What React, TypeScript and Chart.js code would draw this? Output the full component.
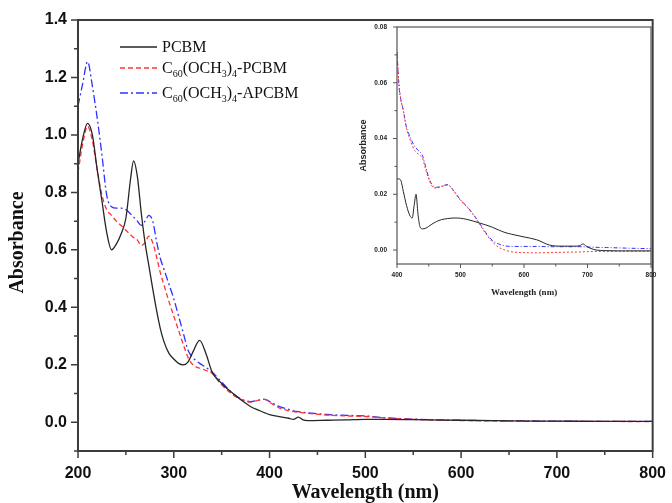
import React, { useEffect, useRef } from 'react';
import { Chart, registerables } from 'chart.js';

Chart.register(...registerables);

// ---------- data ----------
const seriesNames = ['PCBM', 'C60(OCH3)4-PCBM', 'C60(OCH3)4-APCBM'];

const mainWavelengths = [200, 205, 210, 215, 220, 225, 230, 235, 240, 245, 250, 255, 258, 262, 266, 270, 274, 278, 282, 286, 290, 295, 300, 305, 310, 315, 320, 327, 334, 340, 350, 360, 370, 380, 390, 395, 400, 410, 420, 425, 430, 435, 440, 460, 480, 500, 520, 550, 600, 650, 700, 750, 800];
const mainPCBM = [0.90, 0.99, 1.04, 1.00, 0.88, 0.77, 0.66, 0.60, 0.62, 0.655, 0.71, 0.85, 0.91, 0.855, 0.73, 0.625, 0.545, 0.465, 0.39, 0.325, 0.278, 0.24, 0.22, 0.205, 0.20, 0.21, 0.245, 0.285, 0.235, 0.175, 0.135, 0.105, 0.078, 0.055, 0.040, 0.033, 0.027, 0.020, 0.014, 0.010, 0.018, 0.008, 0.006, 0.007, 0.008, 0.010, 0.010, 0.009, 0.007, 0.005, 0.004, 0.003, 0.003];
const mainOMePCBM = [0.87, 0.97, 1.03, 0.98, 0.88, 0.79, 0.74, 0.72, 0.70, 0.685, 0.668, 0.652, 0.643, 0.634, 0.615, 0.625, 0.648, 0.625, 0.576, 0.52, 0.475, 0.42, 0.37, 0.32, 0.27, 0.225, 0.20, 0.188, 0.18, 0.17, 0.13, 0.10, 0.08, 0.07, 0.078, 0.08, 0.07, 0.05, 0.04, 0.037, 0.035, 0.033, 0.031, 0.025, 0.022, 0.02, 0.015, 0.01, 0.006, 0.004, 0.003, 0.003, 0.002];
const mainOMeAPCBM = [1.10, 1.18, 1.255, 1.17, 1.06, 0.93, 0.79, 0.75, 0.745, 0.745, 0.74, 0.725, 0.715, 0.70, 0.685, 0.70, 0.72, 0.70, 0.63, 0.57, 0.53, 0.48, 0.43, 0.37, 0.31, 0.25, 0.225, 0.205, 0.19, 0.175, 0.14, 0.105, 0.082, 0.072, 0.078, 0.08, 0.072, 0.055, 0.045, 0.04, 0.037, 0.035, 0.033, 0.027, 0.024, 0.022, 0.016, 0.011, 0.007, 0.005, 0.004, 0.003, 0.003];

const insetWavelengths = [400, 403, 406, 410, 415, 420, 424, 427, 430, 433, 436, 440, 445, 450, 455, 462, 470, 480, 490, 500, 510, 520, 530, 540, 550, 560, 570, 580, 600, 620, 640, 660, 680, 688, 693, 698, 710, 730, 760, 800];
const insetPCBM = [0.0255, 0.0255, 0.025, 0.021, 0.016, 0.0125, 0.0115, 0.016, 0.020, 0.013, 0.0085, 0.0076, 0.0078, 0.0085, 0.0093, 0.0102, 0.0109, 0.0113, 0.0115, 0.0114, 0.0110, 0.0104, 0.0097, 0.0090, 0.0082, 0.0072, 0.0063, 0.0057, 0.0047, 0.0037, 0.0018, 0.0014, 0.0014, 0.0016, 0.0022, 0.0014, 0.0002, -0.0002, -0.0003, -0.0003];
const insetOMePCBM = [0.071, 0.060, 0.054, 0.050, 0.0435, 0.040, 0.0375, 0.036, 0.0352, 0.0345, 0.034, 0.033, 0.029, 0.0255, 0.023, 0.0222, 0.0228, 0.0233, 0.021, 0.0178, 0.0155, 0.0127, 0.0093, 0.0058, 0.003, 0.001, 0.0, -0.0006, -0.0009, -0.001, -0.0009, -0.0008, -0.0007, -0.0007, -0.0006, -0.0006, -0.0005, -0.0005, -0.0004, -0.0004];
const insetOMeAPCBM = [0.071, 0.059, 0.054, 0.050, 0.044, 0.041, 0.0388, 0.0375, 0.0366, 0.0358, 0.0352, 0.034, 0.030, 0.026, 0.0235, 0.0225, 0.0229, 0.0235, 0.021, 0.018, 0.0157, 0.0129, 0.0096, 0.0062, 0.0035, 0.0022, 0.0015, 0.0013, 0.0013, 0.0013, 0.0012, 0.0012, 0.0012, 0.0012, 0.0012, 0.0011, 0.0010, 0.0009, 0.0007, 0.0005];

const mainXRange = [200, 800];
const mainYRange = [-0.1, 1.4];
const insetXRange = [400, 800];
const insetYRange = [-0.005, 0.08];
const axisTitles = { x: 'Wavelength (nm)', y: 'Absorbance' };

const seriesColors = ['#262626', '#ff3333', '#3030ff'];
const mainDashes = [[], [5, 3], [8, 3, 2, 3]];
const insetDashes = [[], [2, 2], [4, 2, 1, 2]];

// ---------- helpers ----------
const toPoints = (xs: number[], ys: number[]) => xs.map((x, i) => ({ x, y: ys[i] }));
const isMult = (v: number, m: number) => Math.abs(v / m - Math.round(v / m)) < 1e-6;
const SANS = '"Liberation Sans", Arial, sans-serif';
const SERIF = '"Liberation Serif", "Times New Roman", serif';

function frameTicksPlugin(cfg: any) {
  return {
    id: 'frameTicks' + cfg.id,
    afterDraw(chart: any) {
      const { ctx, chartArea: a, scales } = chart;
      const xs = scales.x;
      const ys = scales.y;
      ctx.save();
      ctx.strokeStyle = cfg.color;
      ctx.lineWidth = cfg.tickWidth;
      ctx.beginPath();
      const x0 = Math.ceil(xs.min / cfg.xMinor - 1e-9);
      const x1 = Math.floor(xs.max / cfg.xMinor + 1e-9);
      for (let i = x0; i <= x1; i++) {
        const v = i * cfg.xMinor;
        const px = xs.getPixelForValue(v);
        const len = isMult(v, cfg.xMajor) ? cfg.majorLen : cfg.minorLen;
        ctx.moveTo(px, a.bottom);
        ctx.lineTo(px, a.bottom + len);
      }
      const y0 = Math.ceil(ys.min / cfg.yMinor - 1e-9);
      const y1 = Math.floor(ys.max / cfg.yMinor + 1e-9);
      for (let i = y0; i <= y1; i++) {
        const v = i * cfg.yMinor;
        const py = ys.getPixelForValue(v);
        const len = isMult(v, cfg.yMajor) ? cfg.majorLen : cfg.minorLen;
        ctx.moveTo(a.left, py);
        ctx.lineTo(a.left - len, py);
      }
      ctx.stroke();
      ctx.lineWidth = cfg.frameWidth;
      ctx.strokeRect(a.left, a.top, a.right - a.left, a.bottom - a.top);
      ctx.restore();
    },
  };
}

// split a chemical name into normal / subscript parts
function chemParts(name: string) {
  const parts: { t: string; sub: boolean }[] = [];
  const re = /(\d+)|([^\d]+)/g;
  let m: RegExpExecArray | null;
  while ((m = re.exec(name))) {
    if (m[1]) {
      const prev = parts.length ? parts[parts.length - 1].t : '';
      const sub = /[A-Za-z)]$/.test(prev);
      parts.push({ t: m[1], sub });
    } else parts.push({ t: m[2], sub: false });
  }
  return parts;
}

const mainExtrasPlugin = {
  id: 'mainExtras',
  afterDraw(chart: any) {
    const { ctx, chartArea: a } = chart;
    ctx.save();
    // y title
    ctx.fillStyle = '#111';
    ctx.font = 'bold 20px ' + SERIF;
    ctx.textAlign = 'center';
    ctx.textBaseline = 'middle';
    ctx.translate(18, (a.top + a.bottom) / 2 + 7);
    ctx.rotate(-Math.PI / 2);
    ctx.fillText(axisTitles.y, 0, 0);
    ctx.restore();

    // legend
    const rows = [27, 48, 73];
    ctx.save();
    chart.data.datasets.forEach((ds: any, i: number) => {
      const y = a.top + rows[i];
      ctx.strokeStyle = ds.borderColor;
      ctx.lineWidth = 1.3;
      ctx.setLineDash(ds.borderDash || []);
      ctx.beginPath();
      ctx.moveTo(a.left + 42, y);
      ctx.lineTo(a.left + 79, y);
      ctx.stroke();
      ctx.setLineDash([]);
      let x = a.left + 84;
      const base = y + 5;
      ctx.fillStyle = '#111';
      ctx.textAlign = 'left';
      ctx.textBaseline = 'alphabetic';
      for (const p of chemParts(ds.label)) {
        ctx.font = (p.sub ? '10px ' : '16px ') + SERIF;
        const by = p.sub ? base + 4 : base;
        ctx.fillText(p.t, x, by);
        x += ctx.measureText(p.t).width;
      }
    });
    ctx.restore();
  },
};

function mainConfig(): any {
  const sets = [mainPCBM, mainOMePCBM, mainOMeAPCBM];
  return {
    type: 'line',
    data: {
      datasets: sets.map((s, i) => ({
        label: seriesNames[i],
        data: toPoints(mainWavelengths, s),
        borderColor: seriesColors[i],
        borderDash: mainDashes[i],
        borderWidth: 1.3,
        pointRadius: 0,
        fill: false,
        cubicInterpolationMode: 'monotone',
      })),
    },
    options: {
      responsive: false,
      animation: false,
      devicePixelRatio: 1,
      layout: { padding: { top: 20, right: 15, left: 0, bottom: 0 } },
      plugins: { legend: { display: false }, tooltip: { enabled: false } },
      scales: {
        x: {
          type: 'linear',
          min: mainXRange[0],
          max: mainXRange[1],
          afterFit: (s: any) => { s.height = 52; },
          grid: { drawOnChartArea: false, tickLength: 7, tickColor: 'rgba(0,0,0,0)' },
          border: { display: false },
          ticks: {
            stepSize: 50,
            autoSkip: false,
            maxRotation: 0,
            padding: 6,
            color: '#111',
            font: { family: SANS, size: 16, weight: 'bold' },
            callback: (v: number) => (isMult(v, 100) ? String(v) : ''),
          },
          title: {
            display: true,
            text: axisTitles.x,
            color: '#111',
            padding: 0,
            font: { family: SERIF, size: 20, weight: 'bold', lineHeight: 1 },
          },
        },
        y: {
          type: 'linear',
          min: mainYRange[0],
          max: mainYRange[1],
          afterFit: (s: any) => { s.width = 78; },
          grid: { drawOnChartArea: false, tickLength: 7, tickColor: 'rgba(0,0,0,0)' },
          border: { display: false },
          ticks: {
            stepSize: 0.1,
            autoSkip: false,
            padding: 4,
            color: '#111',
            font: { family: SANS, size: 16, weight: 'bold' },
            callback: (v: number) => (isMult(v, 0.2) ? (Math.abs(v) < 1e-9 ? 0 : v).toFixed(1) : ''),
          },
        },
      },
    },
    plugins: [
      frameTicksPlugin({ id: 'main', color: '#3c3c3c', tickWidth: 1.5, frameWidth: 2, majorLen: 7, minorLen: 4, xMajor: 100, xMinor: 50, yMajor: 0.2, yMinor: 0.1 }),
      mainExtrasPlugin,
    ],
  };
}

function insetConfig(): any {
  const sets = [insetPCBM, insetOMePCBM, insetOMeAPCBM];
  return {
    type: 'line',
    data: {
      datasets: sets.map((s, i) => ({
        label: seriesNames[i],
        data: toPoints(insetWavelengths, s),
        borderColor: seriesColors[i],
        borderDash: insetDashes[i],
        borderWidth: 1,
        pointRadius: 0,
        fill: false,
        cubicInterpolationMode: 'monotone',
      })),
    },
    options: {
      responsive: false,
      animation: false,
      devicePixelRatio: 1,
      layout: { padding: { top: 10, right: 9, left: 0, bottom: 0 } },
      plugins: { legend: { display: false }, tooltip: { enabled: false } },
      scales: {
        x: {
          type: 'linear',
          min: insetXRange[0],
          max: insetXRange[1],
          afterFit: (s: any) => { s.height = 41; },
          grid: { drawOnChartArea: false, tickLength: 4, tickColor: 'rgba(0,0,0,0)' },
          border: { display: false },
          ticks: {
            stepSize: 50,
            autoSkip: false,
            maxRotation: 0,
            padding: 3,
            color: '#222',
            font: { family: SANS, size: 6.5, weight: 'bold' },
            callback: (v: number) => (isMult(v, 100) ? String(v) : ''),
          },
          title: {
            display: true,
            text: axisTitles.x,
            color: '#222',
            padding: { top: 0, bottom: 7 },
            font: { family: SERIF, size: 9, weight: 'bold', lineHeight: 1.2 },
          },
        },
        y: {
          type: 'linear',
          min: insetYRange[0],
          max: insetYRange[1],
          afterFit: (s: any) => { s.width = 52; },
          grid: { drawOnChartArea: false, tickLength: 4, tickColor: 'rgba(0,0,0,0)' },
          border: { display: false },
          ticks: {
            stepSize: 0.01,
            autoSkip: false,
            padding: 6,
            color: '#222',
            font: { family: SANS, size: 6.5, weight: 'bold' },
            callback: (v: number) => (isMult(v, 0.02) ? (Math.abs(v) < 1e-9 ? 0 : v).toFixed(2) : ''),
          },
          title: {
            display: true,
            text: axisTitles.y,
            color: '#222',
            padding: { top: 13, bottom: 0 },
            font: { family: SANS, size: 9, weight: 'bold', lineHeight: 1.2 },
          },
        },
      },
    },
    plugins: [
      frameTicksPlugin({ id: 'inset', color: '#555', tickWidth: 1, frameWidth: 1.2, majorLen: 4, minorLen: 2.5, xMajor: 100, xMinor: 50, yMajor: 0.02, yMinor: 0.01 }),
    ],
  };
}

export default function App() {
  const mainRef = useRef<HTMLCanvasElement>(null);
  const insetRef = useRef<HTMLCanvasElement>(null);

  useEffect(() => {
    const main = new Chart(mainRef.current as HTMLCanvasElement, mainConfig());
    const inset = new Chart(insetRef.current as HTMLCanvasElement, insetConfig());
    return () => {
      main.destroy();
      inset.destroy();
    };
  }, []);

  return (
    <div style={{ position: 'absolute', left: 0, top: 0, width: 672, height: 503, background: '#fff', overflow: 'hidden' }}>
      <canvas ref={mainRef} width={672} height={503} style={{ position: 'absolute', left: 0, top: 0 }} />
      <canvas ref={insetRef} width={315} height={288} style={{ position: 'absolute', left: 345, top: 17 }} />
    </div>
  );
}
